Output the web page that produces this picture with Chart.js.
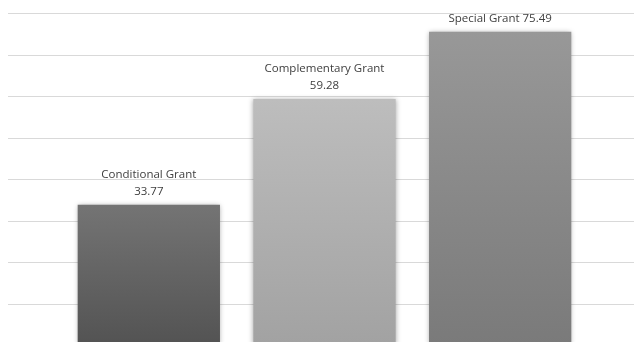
<!DOCTYPE html>
<html>
<head>
<meta charset="utf-8">
<script src="https://cdn.jsdelivr.net/npm/chart.js@4/dist/chart.umd.min.js"></script>
<style>
  html, body { margin: 0; padding: 0; background: #fff; overflow: hidden; }
  #wrap { position: relative; width: 634px; height: 350px; }
</style>
</head>
<body>
<div id="wrap"><canvas id="chart-grants"></canvas></div>
<script>
// data
var grantNames = ["Conditional Grant", "Complementary Grant", "Special Grant"];
var grantValues = [33.77, 59.28, 75.49];
// how each label is split into lines above its bar
var labelLines = [
  ["Conditional Grant", "33.77"],
  ["Complementary Grant", "59.28"],
  ["Special Grant 75.49"]
];
var yTicks = [0, 10, 20, 30, 40, 50, 60, 70, 80];

// top / bottom shade of each bar
var barShades = [
  ["#747474", "#535353"],
  ["#bdbdbd", "#a2a2a2"],
  ["#989898", "#7a7a7a"]
];

var ctx = document.getElementById("chart-grants").getContext("2d");

function barGradient(context) {
  var chart = context.chart;
  var area = chart.chartArea;
  var shade = barShades[context.dataIndex] || barShades[0];
  if (!area || !chart.scales.y) return shade[0];
  var top = chart.scales.y.getPixelForValue(grantValues[context.dataIndex]);
  var g = chart.ctx.createLinearGradient(0, top, 0, area.bottom);
  g.addColorStop(0, shade[0]);
  g.addColorStop(1, shade[1]);
  return g;
}

// horizontal gridlines run across the whole width
var wideGrid = {
  id: "wideGrid",
  beforeDatasetsDraw: function (chart) {
    var y = chart.scales.y;
    var c = chart.ctx;
    c.save();
    c.strokeStyle = "#d9d9d9";
    c.lineWidth = 1;
    yTicks.forEach(function (v) {
      var py = Math.round(y.getPixelForValue(v)) + 0.5;
      c.beginPath();
      c.moveTo(8, py);
      c.lineTo(chart.width, py);
      c.stroke();
    });
    c.restore();
  }
};

// soft shadow under the bars
var barShadow = {
  id: "barShadow",
  beforeDatasetDraw: function (chart) {
    var c = chart.ctx;
    c.save();
    c.shadowColor = "rgba(0,0,0,0.35)";
    c.shadowBlur = 5;
    c.shadowOffsetX = 0;
    c.shadowOffsetY = 0;
  },
  afterDatasetDraw: function (chart) {
    chart.ctx.restore();
  }
};

// labels above the bars
var barLabels = {
  id: "barLabels",
  afterDatasetsDraw: function (chart) {
    var c = chart.ctx;
    var meta = chart.getDatasetMeta(0);
    c.save();
    c.fillStyle = "#404040";
    c.font = "11.5px 'Open Sans'";
    c.textAlign = "center";
    c.textBaseline = "middle";
    meta.data.forEach(function (bar, i) {
      var lines = labelLines[i];
      var lineH = 17;
      var y = bar.y - 13 - (lines.length - 1) * lineH;
      lines.forEach(function (t, k) {
        c.fillText(t, bar.x, y + k * lineH);
      });
    });
    c.restore();
  }
};

new Chart(ctx, {
  type: "bar",
  data: {
    labels: grantNames,
    datasets: [{
      label: "Grants",
      data: grantValues,
      backgroundColor: barGradient,
      borderWidth: 0,
      categoryPercentage: 1,
      barPercentage: 0.81
    }]
  },
  options: {
    responsive: true,
    maintainAspectRatio: false,
    animation: false,
    layout: {
      padding: { left: 61, right: 46, top: 13, bottom: 5 }
    },
    plugins: {
      legend: { display: false },
      tooltip: { enabled: false }
    },
    scales: {
      x: {
        display: false,
        grid: { display: false }
      },
      y: {
        display: false,
        min: 0,
        max: 80,
        grid: { display: false }
      }
    }
  },
  plugins: [wideGrid, barShadow, barLabels]
});
</script>
</body>
</html>
